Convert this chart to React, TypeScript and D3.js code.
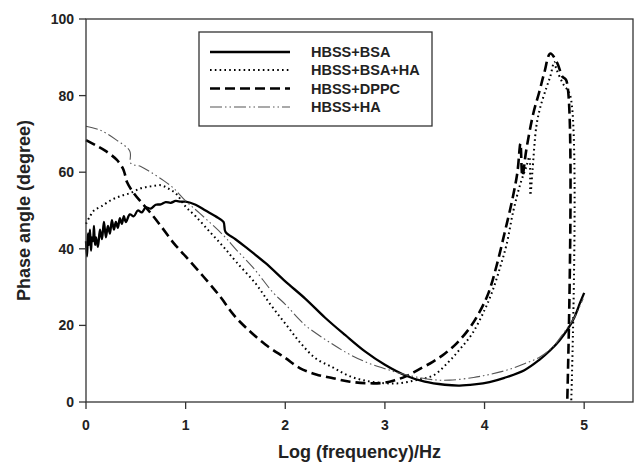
import React from "react";
import * as d3 from "d3";

const xTicks = [0, 1, 2, 3, 4, 5];
const yTicks = [0, 20, 40, 60, 80, 100];
const seriesNames = ["HBSS+BSA", "HBSS+BSA+HA", "HBSS+DPPC", "HBSS+HA"];

// [log frequency, phase angle]
const bsa: [number, number][] = [
  [0, 42], [0.01, 38], [0.02, 44], [0.03, 41], [0.04, 45], [0.05, 39.5], [0.06, 43], [0.07, 42],
  [0.08, 46], [0.09, 41], [0.1, 43], [0.12, 40.5], [0.14, 45], [0.16, 42.5], [0.18, 47], [0.2, 43],
  [0.22, 46], [0.24, 44], [0.26, 47.5], [0.28, 45], [0.3, 47], [0.32, 45.5], [0.34, 48], [0.36, 46.5],
  [0.38, 48.5], [0.4, 47], [0.44, 49], [0.48, 48.5], [0.52, 50], [0.56, 49.5], [0.6, 50.8], [0.65, 50.5],
  [0.7, 51.5], [0.75, 51.6], [0.8, 52.2], [0.85, 52], [0.9, 52.5], [0.95, 52.3], [1.0, 52.3], [1.1, 51.5],
  [1.2, 50], [1.3, 48.5], [1.38, 47], [1.4, 44.4], [1.5, 42.5], [1.6, 40.5], [1.8, 36.3], [2.0, 31.5],
  [2.2, 27], [2.4, 22], [2.6, 17.5], [2.8, 13.2], [3.0, 9.7], [3.2, 7], [3.4, 5.3], [3.6, 4.5],
  [3.75, 4.3], [3.9, 4.6], [4.05, 5.2], [4.2, 6.3], [4.4, 8.3], [4.55, 11], [4.66, 13.5], [4.75, 16],
  [4.83, 18.8], [4.9, 22], [4.96, 26], [5.0, 28.5],
];

const bsaHa: [number, number][] = [
  [0, 46.5], [0.04, 48.5], [0.08, 50], [0.15, 51], [0.25, 52.7], [0.35, 53.8], [0.45, 54.6], [0.55, 55.8],
  [0.65, 56.3], [0.75, 56.6], [0.82, 55.8], [0.9, 54.5], [1.0, 51], [1.1, 48.5], [1.24, 44.5], [1.38, 40.5],
  [1.51, 36.5], [1.7, 31], [1.85, 25.5], [2.0, 20.5], [2.15, 15.5], [2.3, 11.5], [2.48, 9], [2.64, 6.8],
  [2.82, 5.5], [3.0, 4.9], [3.15, 4.9], [3.31, 5.7], [3.49, 7], [3.64, 10.5], [3.76, 14], [3.88, 18],
  [4.0, 24], [4.08, 29], [4.16, 35.5], [4.22, 41], [4.29, 50], [4.36, 57], [4.42, 61.5], [4.45, 64],
  [4.46, 54], [4.48, 60], [4.52, 72], [4.56, 77], [4.62, 82], [4.66, 85], [4.7, 88.8], [4.72, 87],
  [4.79, 83], [4.86, 80], [4.87, 0],
];

const dppc: [number, number][] = [
  [0, 68.4], [0.1, 67], [0.2, 65.5], [0.31, 63.2], [0.37, 61], [0.39, 59.5], [0.41, 57.5], [0.48, 54.5],
  [0.56, 52], [0.65, 49.3], [0.75, 46], [0.88, 41.5], [1.0, 38], [1.18, 32.7], [1.35, 27.4], [1.48, 22.8],
  [1.61, 19.3], [1.8, 15], [2.0, 11.5], [2.15, 8.8], [2.31, 7.2], [2.48, 6.2], [2.65, 5.3], [2.82, 4.9],
  [2.98, 5], [3.1, 5.7], [3.21, 6.7], [3.32, 8.2], [3.48, 10.5], [3.6, 12.6], [3.72, 15.3], [3.85, 19.3],
  [3.95, 23.5], [4.04, 28.5], [4.12, 35.5], [4.2, 44], [4.28, 53], [4.33, 60],
  [4.36, 67.5], [4.38, 59], [4.42, 66], [4.49, 75.4], [4.55, 81], [4.6, 86], [4.66, 91], [4.73, 88.5],
  [4.78, 85], [4.82, 84], [4.83, 0],
];

const ha: [number, number][] = [
  [0, 72], [0.14, 71], [0.3, 68.5], [0.44, 65.5], [0.45, 62.3], [0.55, 61.5], [0.65, 60], [0.78, 57.8],
  [0.88, 55.8], [1.0, 52.5], [1.14, 49.3], [1.38, 43.5], [1.5, 40], [1.68, 35], [1.88, 28.5], [2.0, 25.5],
  [2.15, 21.3], [2.22, 19.6], [2.48, 15], [2.64, 12.5], [2.82, 10.3], [3.0, 8.7], [3.15, 7.5], [3.32, 6.5],
  [3.49, 5.8], [3.65, 5.7], [3.89, 6.4], [4.05, 7.2], [4.22, 8.3], [4.4, 10], [4.56, 11.8], [4.7, 14.8],
  [4.79, 17.9], [4.9, 22], [4.99, 27],
];

const seriesData = [bsa, bsaHa, dppc, ha];

const styles = [
  { stroke: "#000", width: 2.3, dash: "" },
  { stroke: "#000", width: 2, dash: "1.6 3.2" },
  { stroke: "#000", width: 2.6, dash: "10 5" },
  { stroke: "#555", width: 1.1, dash: "12 3 1.5 3 1.5 3" },
];

const L = 86, R = 633, T = 19, B = 402;

export default function App() {
  const x = d3.scaleLinear().domain([0, 5.49]).range([L, R]);
  const y = d3.scaleLinear().domain([0, 100]).range([B, T]);
  const line = d3.line<[number, number]>().x((d) => x(d[0])).y((d) => y(d[1])).curve(d3.curveCatmullRom.alpha(0.5));
  const font = "'Liberation Sans', Arial, sans-serif";
  const axisColor = "#333";

  const legX = 199, legY = 32, legW = 233, legH = 94;
  const rowY = [52, 70, 88.5, 107];

  return (
    <svg width={636} height={470} style={{ position: "absolute", left: 0, top: 0, background: "#fff" }} fontFamily={font}>
      <rect x={0} y={0} width={636} height={470} fill="#fff" />
      {seriesData.map((d, i) => (
        <path key={i} d={line(d) || ""} fill="none" stroke={styles[i].stroke} strokeWidth={styles[i].width}
          strokeDasharray={styles[i].dash || undefined} strokeLinejoin="round" />
      ))}
      <rect x={L} y={T} width={R - L} height={B - T} fill="none" stroke={axisColor} strokeWidth={1.3} />
      {yTicks.map((t) => (
        <g key={"y" + t}>
          <line x1={L - 7} x2={L} y1={y(t)} y2={y(t)} stroke={axisColor} strokeWidth={1.3} />
          <text x={L - 12} y={y(t) + 5} textAnchor="end" fontSize={14} fontWeight="bold" fill="#222">{t}</text>
        </g>
      ))}
      {xTicks.map((t) => (
        <g key={"x" + t}>
          <line x1={x(t)} x2={x(t)} y1={B} y2={B + 7} stroke={axisColor} strokeWidth={1.3} />
          <text x={x(t)} y={430} textAnchor="middle" fontSize={14} fontWeight="bold" fill="#222">{t}</text>
        </g>
      ))}
      <text x={(L + R) / 2} y={458} textAnchor="middle" fontSize={18} fontWeight="bold" fill="#222">Log (frequency)/Hz</text>
      <text transform={`translate(30,${(T + B) / 2}) rotate(-90)`} textAnchor="middle" fontSize={18} fontWeight="bold" fill="#222">Phase angle (degree)</text>
      <rect x={legX} y={legY} width={legW} height={legH} fill="#fff" stroke={axisColor} strokeWidth={1.3} />
      {seriesNames.map((n, i) => (
        <g key={n}>
          <line x1={210} x2={290} y1={rowY[i]} y2={rowY[i]} stroke={styles[i].stroke} strokeWidth={styles[i].width}
            strokeDasharray={styles[i].dash || undefined} />
          <text x={311} y={rowY[i] + 5} fontSize={14.5} fontWeight="bold" fill="#222">{n}</text>
        </g>
      ))}
    </svg>
  );
}
